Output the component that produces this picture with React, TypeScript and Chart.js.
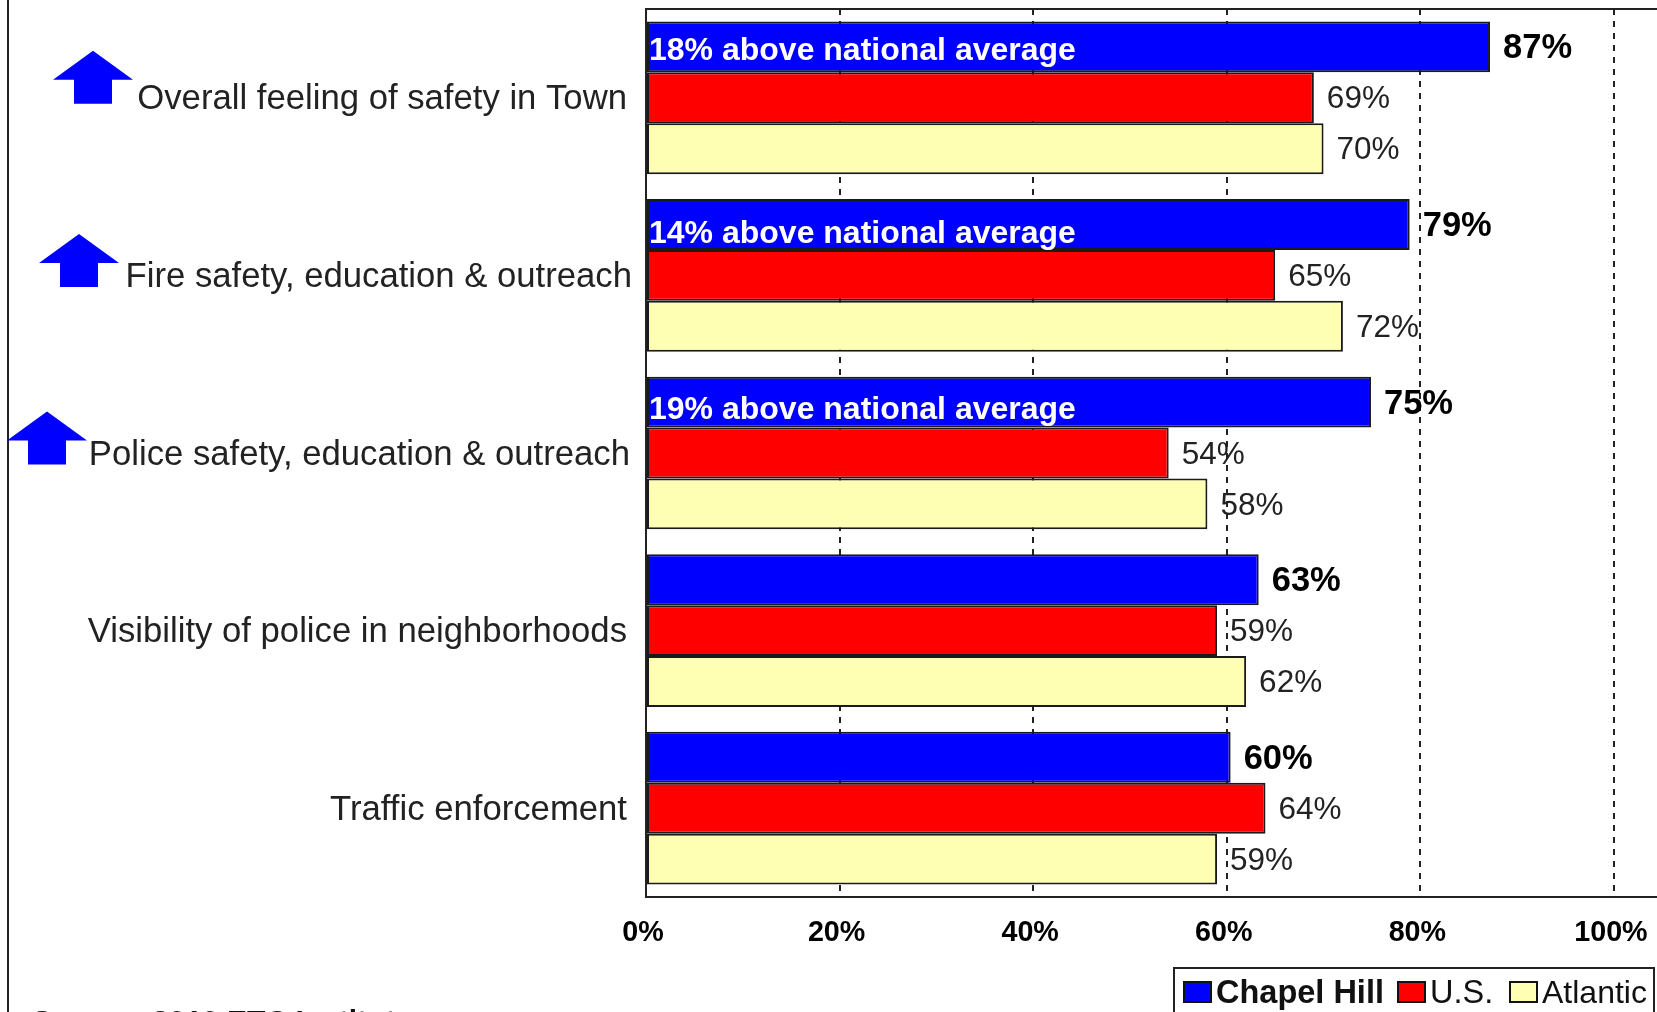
import React, { useEffect, useRef } from "react";
import { Chart, registerables } from "chart.js";

Chart.register(...registerables);

const categories = [
  "Overall feeling of safety in Town",
  "Fire safety, education & outreach",
  "Police safety, education & outreach",
  "Visibility of police in neighborhoods",
  "Traffic enforcement",
];
const chapelHill = [87.2, 78.9, 74.9, 63.3, 60.4];
const us = [69, 65, 54, 59, 64];
const atlantic = [70, 72, 58, 62, 59];
const notes = [
  "18% above national average",
  "14% above national average",
  "19% above national average",
  "",
  "",
];
const sourceNote = "Source: 2010 ETC Institute";

const FONT = '"Liberation Sans", Arial, sans-serif';
const BLUE = "#0000ff";
const RED = "#ff0000";
const CREAM = "#ffffb3";
const INK = "#1a1a1a";

const overlay = {
  id: "overlay",
  beforeDraw(chart: any) {
    // small per-label shifts of the category axis text
    const items = chart.scales.y.getLabelItems();
    if (items.nudged) return;
    items.nudged = true;
    const nudgeX = [0, 5, 3, 0, 0];
    items.forEach((it: any, i: number) => {
      it.options.translation = [it.options.translation[0] + nudgeX[i], it.options.translation[1] + 2];
    });
  },
  afterDraw(chart: any) {
    const { ctx, chartArea: a, scales } = chart;
    const x = scales.x;
    const y = scales.y;
    ctx.save();

    // frame: top line and page edge
    ctx.strokeStyle = "#222";
    ctx.lineWidth = 2;
    ctx.beginPath();
    ctx.moveTo(a.left, a.top);
    ctx.lineTo(chart.width, a.top);
    ctx.moveTo(8, 0);
    ctx.lineTo(8, chart.height);
    ctx.stroke();

    // value labels
    ctx.textBaseline = "middle";
    ctx.textAlign = "left";
    chart.data.datasets.forEach((ds: any, di: number) => {
      const meta = chart.getDatasetMeta(di);
      ds.data.forEach((v: number, i: number) => {
        const bar = meta.data[i];
        ctx.font = di === 0 ? `bold 34.5px ${FONT}` : `31.5px ${FONT}`;
        ctx.fillStyle = di === 0 ? "#000" : "#222";
        ctx.fillText(`${Math.round(v)}%`, x.getPixelForValue(v) + 13, bar.y + 2);
      });
    });

    // notes inside the blue bars
    const meta0 = chart.getDatasetMeta(0);
    ctx.font = `bold 32px ${FONT}`;
    ctx.fillStyle = "#fff";
    const noteDy = [4, 10, 8];
    notes.forEach((n, i) => {
      if (n) ctx.fillText(n, a.left + 3, meta0.data[i].y + noteDy[i]);
    });

    // up arrows beside the labels
    const arrowX = [93, 79, 47];
    ctx.fillStyle = BLUE;
    notes.forEach((n, i) => {
      if (!n) return;
      const cx = arrowX[i];
      const tip = y.getPixelForValue(i) - (i === 0 ? 47 : 41.5);
      ctx.beginPath();
      ctx.moveTo(cx, tip);
      ctx.lineTo(cx + 40, tip + 29);
      ctx.lineTo(cx + 19, tip + 29);
      ctx.lineTo(cx + 19, tip + 53);
      ctx.lineTo(cx - 19, tip + 53);
      ctx.lineTo(cx - 19, tip + 29);
      ctx.lineTo(cx - 40, tip + 29);
      ctx.closePath();
      ctx.fill();
    });

    // legend
    ctx.strokeStyle = "#222";
    ctx.lineWidth = 2;
    ctx.fillStyle = "#fff";
    ctx.fillRect(1174, 968, 480, 60);
    ctx.strokeRect(1174, 968, 480, 60);
    const swatchX = [1184, 1398, 1510];
    const textX = [1216, 1430, 1542];
    const legendFont = [`bold 32.5px ${FONT}`, `32.5px ${FONT}`, `32px ${FONT}`];
    chart.data.datasets.forEach((ds: any, di: number) => {
      ctx.fillStyle = ds.backgroundColor;
      ctx.fillRect(swatchX[di], 982, 27, 20);
      ctx.strokeStyle = "#111";
      ctx.strokeRect(swatchX[di], 982, 27, 20);
      ctx.fillStyle = "#111";
      ctx.font = legendFont[di];
      ctx.textBaseline = "alphabetic";
      ctx.fillText(ds.label, textX[di], 1003);
    });

    // source line, cut by the page edge
    ctx.fillStyle = "#111";
    ctx.font = `bold 30px ${FONT}`;
    ctx.fillText(sourceNote, 32, 1031);
    ctx.restore();
  },
};

export default function App() {
  const ref = useRef<HTMLCanvasElement>(null);
  useEffect(() => {
    const chart = new Chart(ref.current as HTMLCanvasElement, {
      type: "bar",
      data: {
        labels: categories,
        datasets: [
          { label: "Chapel Hill", data: chapelHill, backgroundColor: BLUE },
          { label: "U.S.", data: us, backgroundColor: RED },
          { label: "Atlantic", data: atlantic, backgroundColor: CREAM },
        ].map((d) => ({
          ...d,
          borderColor: INK,
          borderWidth: 2,
          borderSkipped: false,
          categoryPercentage: 0.86,
          barPercentage: 1,
        })),
      },
      options: {
        indexAxis: "y",
        responsive: false,
        animation: false,
        layout: { padding: { top: 9, right: 0, left: 0, bottom: 0 } },
        plugins: { legend: { display: false }, tooltip: { enabled: false } },
        scales: {
          x: {
            min: 0,
            max: 104.45,
            grid: {
              color: "#222",
              lineWidth: 2,
              drawTicks: false,
            },
            border: { color: "#222", width: 2, dash: [6, 6] },
            ticks: {
              stepSize: 20,
              includeBounds: false,
              padding: 19,
              labelOffset: -3,
              maxRotation: 0,
              color: "#000",
              font: { family: FONT, size: 28.7, weight: "bold" },
              callback: (v: any) => `${v}%`,
            },
            afterFit: (s: any) => {
              s.height = 115;
              s.paddingLeft = 0;
              s.paddingRight = 0;
            },
          },
          y: {
            grid: { display: false },
            border: { color: "#222", width: 2 },
            ticks: {
              padding: 11,
              color: "#222",
              font: { family: FONT, size: 34.7 },
              autoSkip: false,
            },
            afterFit: (s: any) => {
              s.width = 646;
              s.paddingTop = 0;
              s.paddingBottom = 0;
            },
          },
        },
      },
      plugins: [overlay],
    } as any);
    return () => chart.destroy();
  }, []);
  return (
    <div style={{ position: "absolute", left: 0, top: 0, width: 1657, height: 1012, overflow: "hidden", background: "#fff" }}>
      <canvas ref={ref} width={1657} height={1012} style={{ display: "block" }} />
    </div>
  );
}
